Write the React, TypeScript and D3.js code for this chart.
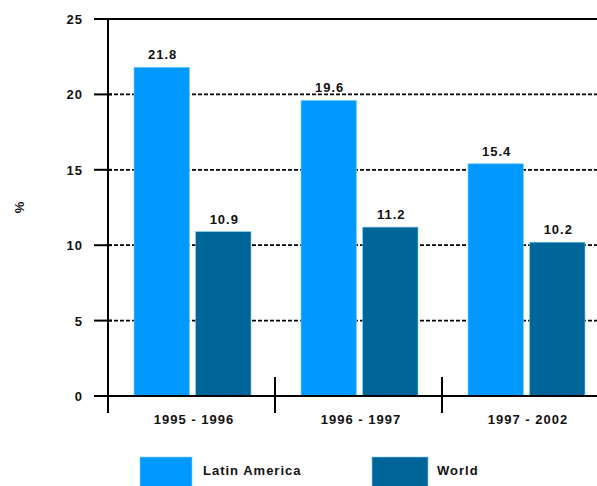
import React from "react";
import * as d3 from "d3";

const categories = ["1995-1996", "1996-1997", "1997-2002"];
const seriesNames = ["Latin America", "World"];
const latinAmerica = [21.8, 19.6, 15.4];
const world = [10.9, 11.2, 10.2];
const yTicks = [0, 5, 10, 15, 20, 25];
const colors = ["#0099ff", "#006699"];

export default function App() {
  const W = 597, H = 486;
  const x0 = 108, y0 = 396, yTop = 19;
  const y = d3.scaleLinear().domain([0, 25]).range([y0, yTop]);
  const x = d3.scaleBand<string>().domain(categories).range([x0, 609]).padding(0);
  const xi = d3.scaleBand<string>().domain(seriesNames).range([26, 143]).paddingInner(0.1);
  const values = [latinAmerica, world];
  const font = "'Liberation Sans', Arial, sans-serif";
  const fmt = (v: number) => v.toFixed(1);
  const tx = { fontSize: 13, fontWeight: 700, letterSpacing: 1, fill: "#111" } as const;

  return (
    <svg width={W} height={H} style={{ position: "absolute", left: 0, top: 0, background: "#fff" }} fontFamily={font}>
      {yTicks.filter(t => t > 0 && t < 25).map(t => (
        <line key={"g" + t} x1={x0} x2={W} y1={y(t)} y2={y(t)} stroke="#000" strokeWidth={1.8} strokeDasharray="4,2" />
      ))}
      <line x1={94} x2={W} y1={y(25)} y2={y(25)} stroke="#000" strokeWidth={2} />
      {categories.map((c, ci) =>
        seriesNames.map((s, si) => {
          const v = values[si][ci];
          const bx = (x(c) as number) + (xi(s) as number);
          return (
            <g key={c + s}>
              <rect x={bx} y={y(v)} width={xi.bandwidth()} height={y0 - y(v)} fill={colors[si]} stroke="#7fcfff" strokeWidth={0.6} />
              <text x={bx + xi.bandwidth() / 2 + 1} y={y(v) - 8} textAnchor="middle" {...tx}>{fmt(v)}</text>
            </g>
          );
        })
      )}
      {yTicks.map(t => (
        <g key={"t" + t}>
          <line x1={94} x2={x0 + 4} y1={y(t)} y2={y(t)} stroke="#000" strokeWidth={2} />
          <text x={83} y={y(t) + 5} textAnchor="end" {...tx}>{t}</text>
        </g>
      ))}
      <line x1={x0} x2={x0} y1={yTop} y2={413} stroke="#000" strokeWidth={2} />
      <line x1={94} x2={W} y1={y0} y2={y0} stroke="#000" strokeWidth={2} />
      {categories.map((c, i) => i > 0 ? (
        <line key={"s" + c} x1={x(c) as number} x2={x(c) as number} y1={377} y2={413} stroke="#000" strokeWidth={2} />
      ) : null)}
      {categories.map(c => (
        <text key={"l" + c} x={(x(c) as number) + 86} y={424} textAnchor="middle" {...tx}>{c.replace("-", " - ")}</text>
      ))}
      <text transform="translate(24,207) rotate(-90)" textAnchor="middle" {...tx}>%</text>
      {seriesNames.map((s, i) => {
        const lx = [140, 372][i];
        return (
          <g key={"lg" + s}>
            <rect x={lx} y={457} width={[52, 56][i]} height={40} fill={colors[i]} stroke="#7fcfff" strokeWidth={0.6} />
            <text x={lx + [63, 65][i]} y={475} {...tx}>{s}</text>
          </g>
        );
      })}
    </svg>
  );
}
